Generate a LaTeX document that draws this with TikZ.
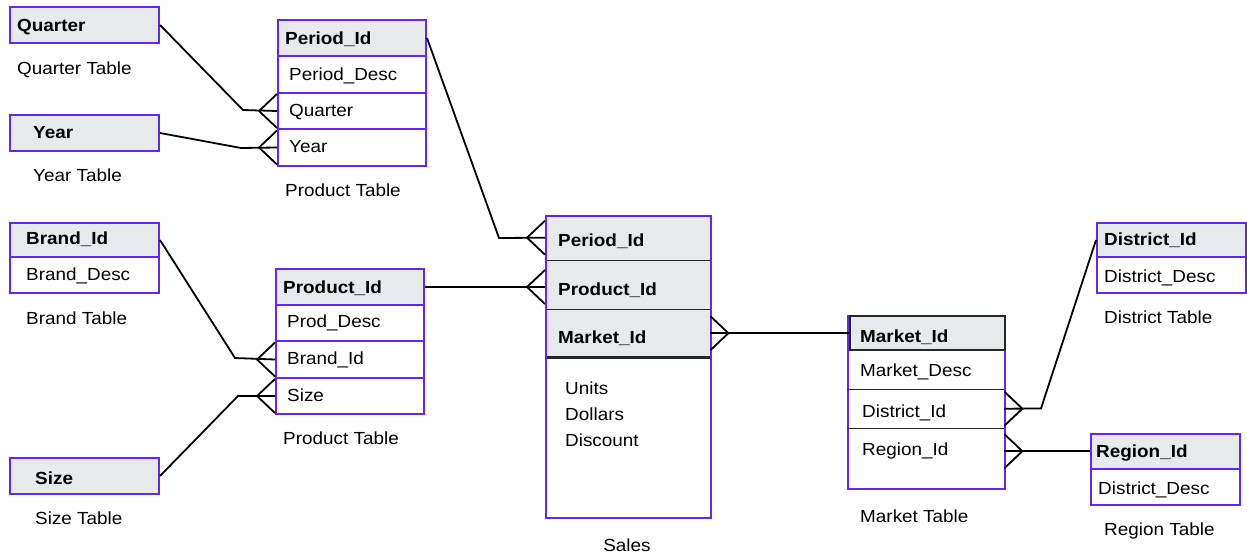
\documentclass[tikz,border=0pt]{standalone}
\usepackage{fontspec}
\setmainfont{Liberation Sans}[FakeStretch=1.08]
\usetikzlibrary{calc}
\definecolor{boxc}{HTML}{6424FA}
\definecolor{hdrc}{HTML}{E6EAEA}
\tikzset{
  cell/.style args={#1x#2}{anchor=north west, inner sep=0pt, minimum width=#1pt, minimum height=#2pt},
  frame/.style={draw=boxc, line width=2pt},
  head/.style={frame, fill=hdrc},
  lbl/.style={anchor=base west, inner sep=0pt, yshift=-6.3pt, font=\fontsize{17.5}{20}\selectfont},
  key/.style={lbl, font=\bfseries\fontsize{17.5}{20}\selectfont},
  caption/.style={lbl},
  link/.style={draw=black, line width=1.8pt},
  divider/.style={draw=black!85, line width=1.8pt},
  crowL/.pic={\draw[link] (0,-17) -- (-18,0) -- (0,17);},
  crowR/.pic={\draw[link] (0,-17) -- (18,0) -- (0,17);},
}
\begin{document}
\begin{tikzpicture}[x=1pt,y=-1pt]
\useasboundingbox (0,0) rectangle (1247,559);

% ---- Quarter and Year lookup tables
\node[head, cell=149x36] (qH) at (9,6) {};
\node[key] (qHt) at (17,25) {Quarter};
\node[caption] (qCap) at (17,68) {Quarter Table};

\node[head, cell=149x36] (yH) at (9,114) {};
\node[key] (yHt) at (33,132) {Year};
\node[caption] (yCap) at (33,175) {Year Table};

% ---- Period table
\node[head, cell=148x36] (perH) at (277,19) {};
\node[frame, cell=148x37] (perD) at (277,55) {};
\node[frame, cell=148x36] (perQ) at (277,92) {};
\node[frame, cell=148x37] (perY) at (277,128) {};
\node[key] (perHt) at (285,38) {Period\_Id};
\node[lbl] (perDt) at (289,74) {Period\_Desc};
\node[lbl] (perQt) at (289,110) {Quarter};
\node[lbl] (perYt) at (289,146) {Year};
\node[caption] (perCap) at (285,190) {Product Table};

% ---- Brand and Size lookup tables
\node[head, cell=149x34] (brH) at (9,222) {};
\node[frame, cell=149x36] (brD) at (9,256) {};
\node[key] (brHt) at (26,238) {Brand\_Id};
\node[lbl] (brDt) at (26,274) {Brand\_Desc};
\node[caption] (brCap) at (26,318) {Brand Table};

\node[head, cell=149x36] (szH) at (9,457) {};
\node[key] (szHt) at (35,478) {Size};
\node[caption] (szCap) at (35,518) {Size Table};

% ---- Product table
\node[head, cell=148x36] (prH) at (275,268) {};
\node[frame, cell=148x36] (prD) at (275,304) {};
\node[frame, cell=148x37] (prB) at (275,340) {};
\node[frame, cell=148x36] (prS) at (275,377) {};
\node[key] (prHt) at (283,287) {Product\_Id};
\node[lbl] (prDt) at (287,321) {Prod\_Desc};
\node[lbl] (prBt) at (287,358) {Brand\_Id};
\node[lbl] (prSt) at (287,395) {Size};
\node[caption] (prCap) at (283,438) {Product Table};

% ---- Sales fact table
\node[fill=hdrc, cell=165x45] (saP) at (545,215) {};
\node[fill=hdrc, cell=165x49] (saR) at (545,260) {};
\node[fill=hdrc, cell=165x48] (saM) at (545,309) {};
\draw[divider] (saP.south west) -- (saP.south east);
\draw[divider] (saR.south west) -- (saR.south east);
\draw[divider, line width=2.6pt] (saM.south west) -- (saM.south east);
\node[frame, cell=165x302] (saBox) at (545,215) {};
\node[key] (saPt) at (558,240) {Period\_Id};
\node[key] (saRt) at (558,289) {Product\_Id};
\node[key] (saMt) at (558,337) {Market\_Id};
\node[lbl] (saU) at (565,388) {Units};
\node[lbl] (saDo) at (565,414) {Dollars};
\node[lbl] (saDi) at (565,440) {Discount};
\node[lbl, anchor=base] (saCap) at (627,545) {Sales};

% ---- Market table
\node[frame, cell=157x173] (mkBox) at (847,315) {};
\node[draw=black!85, line width=1.8pt, fill=hdrc, cell=155x34] (mkH) at (849,315) {};
\node[cell=157x40] (mkM) at (847,349) {};
\node[cell=157x39] (mkD) at (847,389) {};
\node[cell=157x46] (mkR) at (847,428) {};
\draw[divider] (mkM.south west) -- (mkM.south east);
\draw[divider] (mkD.south west) -- (mkD.south east);
\node[key] (mkHt) at (860,336) {Market\_Id};
\node[lbl] (mkMt) at (860,370) {Market\_Desc};
\node[lbl] (mkDt) at (862,411) {District\_Id};
\node[lbl] (mkRt) at (862,449) {Region\_Id};
\node[caption] (mkCap) at (860,516) {Market Table};

% ---- District and Region lookup tables
\node[head, cell=149x34] (diH) at (1096,222) {};
\node[frame, cell=149x36] (diD) at (1096,256) {};
\node[key] (diHt) at (1104,239) {District\_Id};
\node[lbl] (diDt) at (1104,276) {District\_Desc};
\node[caption] (diCap) at (1104,317) {District Table};

\node[head, cell=149x35] (reH) at (1090,433) {};
\node[frame, cell=149x36] (reD) at (1090,468) {};
\node[key] (reHt) at (1096,451) {Region\_Id};
\node[lbl] (reDt) at (1098,488) {District\_Desc};
\node[caption] (reCap) at (1104,529) {Region Table};

% ---- relationship lines with crow's feet
\coordinate (qBend) at (243,110);
\coordinate (yBend) at (241,148);
\coordinate (pBend) at (499,238);
\coordinate (bBend) at (235,358);
\coordinate (sBend) at (238,396);
\coordinate (dBend) at (1041,408.5);

\draw[link] (qH.east) -- (qBend) -- (perQ.west);
\pic at (perQ.west) {crowL};
\draw[link] (yH.east) -- (yBend) -- (perY.west);
\pic at (perY.west) {crowL};

\draw[link] (perH.east) -- (pBend) -- (saP.west);
\pic at (saP.west) {crowL};
\draw[link] (prH.east) -- (prH.east -| saR.west);
\pic at (prH.east -| saR.west) {crowL};

\draw[link] (brH.east) -- (bBend) -- (prB.west);
\pic at (prB.west) {crowL};
\draw[link] (szH.east) -- (sBend) -- (prS.west);
\pic at (prS.west) {crowL};

\draw[link] (saM.east) -- (saM.east -| mkH.west);
\pic at (saM.east) {crowR};

\draw[link] (mkD.east) -- (dBend) -- (diH.west);
\pic at (mkD.east) {crowR};
\draw[link] (mkR.east) -- (mkR.east -| reH.west);
\pic at (mkR.east) {crowR};
\end{tikzpicture}
\end{document}
